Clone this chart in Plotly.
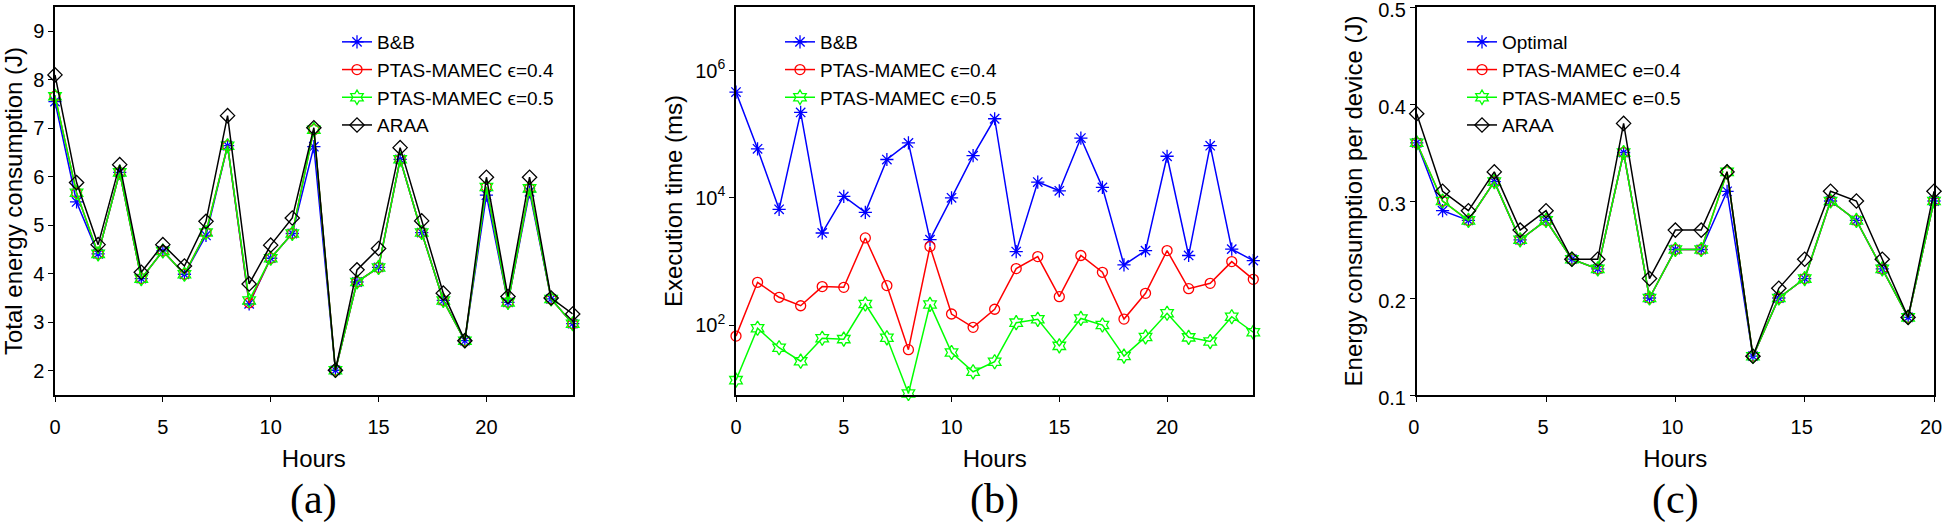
import plotly.graph_objects as go

# ---------------- data ----------------
hours_24 = list(range(25))
hours_20 = list(range(21))

# (a) Total energy consumption (J)
a_bb = [7.55, 5.48, 4.41, 6.09, 3.90, 4.47, 3.99, 4.79, 6.64, 3.38, 4.32, 4.83, 6.62,
        2.01, 3.83, 4.13, 6.36, 4.85, 3.45, 2.62, 5.62, 3.41, 5.69, 3.48, 2.97]
a_p04 = [7.66, 5.67, 4.41, 6.09, 3.90, 4.47, 3.99, 4.85, 6.64, 3.40, 4.32, 4.83, 6.97,
         2.01, 3.83, 4.13, 6.36, 4.85, 3.45, 2.62, 5.79, 3.41, 5.76, 3.48, 2.97]
a_p05 = [7.66, 5.67, 4.41, 6.09, 3.90, 4.47, 3.99, 4.85, 6.64, 3.45, 4.32, 4.83, 6.97,
         2.01, 3.83, 4.13, 6.36, 4.85, 3.45, 2.62, 5.79, 3.41, 5.76, 3.48, 2.97]
a_araa = [8.10, 5.88, 4.60, 6.25, 4.03, 4.60, 4.16, 5.08, 7.26, 3.79, 4.59, 5.15, 7.01,
          2.01, 4.08, 4.52, 6.60, 5.09, 3.60, 2.62, 5.99, 3.53, 5.99, 3.50, 3.17]

# (b) Execution time (ms)
b_bb = [4.6e5, 5.9e4, 6.6e3, 2.2e5, 2.8e3, 1.05e4, 5.9e3, 4.0e4, 7.3e4, 2.2e3, 1.0e4, 4.6e4, 1.75e5,
        1.43e3, 1.77e4, 1.29e4, 8.7e4, 1.46e4, 881, 1.48e3, 4.5e4, 1.24e3, 6.6e4, 1.56e3, 1.03e3]
b_p04 = [67, 470, 273, 201, 402, 392, 2340, 417, 41, 1710, 149, 92, 177,
         771, 1190, 279, 1240, 675, 124, 315, 1480, 373, 453, 993, 523]
b_p05 = [13.6, 89, 44, 27, 62, 60, 214, 63, 8.4, 211, 37, 18.4, 26.5,
         109, 123, 47, 127, 100, 32.5, 65, 153, 64, 55, 135, 77]

# (c) Energy consumption per device (J)
c_opt = [0.36, 0.29, 0.28, 0.32, 0.26, 0.28, 0.24, 0.23, 0.35, 0.20, 0.25,
         0.25, 0.31, 0.14, 0.20, 0.22, 0.30, 0.28, 0.23, 0.18, 0.30]
c_p04 = [0.36, 0.30, 0.28, 0.32, 0.26, 0.28, 0.24, 0.23, 0.35, 0.20, 0.25,
         0.25, 0.33, 0.14, 0.20, 0.22, 0.30, 0.28, 0.23, 0.18, 0.30]
c_p05 = [0.36, 0.30, 0.28, 0.32, 0.26, 0.28, 0.24, 0.23, 0.35, 0.20, 0.25,
         0.25, 0.33, 0.14, 0.20, 0.22, 0.30, 0.28, 0.23, 0.18, 0.30]
c_araa = [0.39, 0.31, 0.29, 0.33, 0.27, 0.29, 0.24, 0.24, 0.38, 0.22, 0.27,
          0.27, 0.33, 0.14, 0.21, 0.24, 0.31, 0.30, 0.24, 0.18, 0.31]

names_ab = ["B&B", "PTAS-MAMEC ϵ=0.4", "PTAS-MAMEC ϵ=0.5", "ARAA"]
names_c = ["Optimal", "PTAS-MAMEC e=0.4", "PTAS-MAMEC e=0.5", "ARAA"]
panel_labels = ["(a)", "(b)", "(c)"]
ytitles = ["Total energy consumption (J)", "Execution time (ms)", "Energy consumption per device (J)"]

# ---------------- style ----------------
W, H = 1945, 531
FONT = "Liberation Sans, Arial, Helvetica, sans-serif"
colors = ["#0000ff", "#ff0000", "#00ff00", "#000000"]
symbols = ["asterisk-open", "circle-open", "hexagram-open", "diamond-open"]
msizes = [11, 10, 11, 11]

def px_x(p):
    return p / W

def px_y(p):
    return 1 - p / H

dom_x = [(55, 572.7), (736, 1253.3), (1416.7, 1934)]
dom_y = [px_y(395), px_y(7)]

fig = go.Figure()

series = [
    (hours_24, [a_bb, a_p04, a_p05, a_araa], names_ab, "x", "y", "legend"),
    (hours_24, [b_bb, b_p04, b_p05], names_ab[:3], "x2", "y2", "legend2"),
    (hours_20, [c_opt, c_p04, c_p05, c_araa], names_c, "x3", "y3", "legend3"),
]
for xs, ys_list, names, xa, ya, lg in series:
    for i, ys in enumerate(ys_list):
        fig.add_trace(go.Scatter(
            x=xs, y=ys, name=names[i], mode="lines+markers",
            line=dict(color=colors[i], width=1.5),
            marker=dict(symbol=symbols[i], size=msizes[i], color=colors[i],
                        line=dict(width=1.3, color=colors[i])),
            xaxis=xa, yaxis=ya, legend=lg, cliponaxis=False,
        ))

axis_common = dict(
    showline=True, linecolor="black", linewidth=1.5, mirror=True,
    ticks="outside", ticklen=5, tickwidth=1, tickcolor="black",
    showgrid=False, zeroline=False, automargin=False, ticklabeloverflow="allow",
    tickfont=dict(family=FONT, size=20, color="black"),
)
TFONT = dict(family=FONT, size=24, color="black")

xranges = [[0, 24], [0, 24], [0, 20]]
for k in range(3):
    sfx = "" if k == 0 else str(k + 1)
    fig.layout["xaxis" + sfx] = dict(
        axis_common, domain=[px_x(dom_x[k][0]), px_x(dom_x[k][1])],
        range=xranges[k], tickvals=[0, 5, 10, 15, 20],
        anchor="y" + sfx, ticklabelstandoff=8,
        ticklabelshift=(-3 if k == 2 else 0),
        title=dict(text="Hours", font=TFONT, standoff=13),
    )

fig.layout["yaxis"] = dict(
    axis_common, domain=dom_y, anchor="x", range=[1.5, 9.5],
    tickvals=[2, 3, 4, 5, 6, 7, 8, 9], ticklabelstandoff=0,
    title=dict(text=ytitles[0], font=TFONT, standoff=8),
)
fig.layout["yaxis2"] = dict(
    axis_common, domain=dom_y, anchor="x2", type="log", range=[0.9, 7],
    tickvals=[1e2, 1e4, 1e6], ticktext=["10<sup>2</sup>", "10<sup>4</sup>", "10<sup>6</sup>"],
    ticklabelstandoff=0,
    title=dict(text=ytitles[1], font=TFONT, standoff=6),
)
fig.layout["yaxis3"] = dict(
    axis_common, domain=dom_y, anchor="x3", range=[0.1, 0.5],
    tickvals=[0.1, 0.2, 0.3, 0.4, 0.5], ticktext=["0.1", "0.2", "0.3", "0.4", "0.5"],
    ticklabelstandoff=0, ticklabelshift=3,
    title=dict(text=ytitles[2], font=TFONT, standoff=9),
)

leg_common = dict(
    xanchor="left", yanchor="top", bgcolor="rgba(255,255,255,0)", borderwidth=0,
    font=dict(family=FONT, size=19, color="black"), tracegroupgap=0,
)
fig.update_layout(
    legend=dict(leg_common, x=px_x(337), y=px_y(23)),
    legend2=dict(leg_common, x=px_x(780), y=px_y(23)),
    legend3=dict(leg_common, x=px_x(1462), y=px_y(23)),
)

for k in range(3):
    cx = (dom_x[k][0] + dom_x[k][1]) / 2
    fig.add_annotation(
        text=panel_labels[k], x=px_x(cx), y=px_y(500), xref="paper", yref="paper",
        xanchor="center", yanchor="middle", showarrow=False,
        font=dict(family="Liberation Serif, DejaVu Serif, serif", size=42, color="black"),
    )

fig.update_layout(
    width=W, height=H, margin=dict(l=0, r=0, t=0, b=0),
    paper_bgcolor="white", plot_bgcolor="white", showlegend=True,
)

fig.write_html(
    "out.html",
    config={"displayModeBar": False},
    post_script="document.body.style.margin='0';document.body.style.padding='0';document.body.style.overflow='hidden';",
)
